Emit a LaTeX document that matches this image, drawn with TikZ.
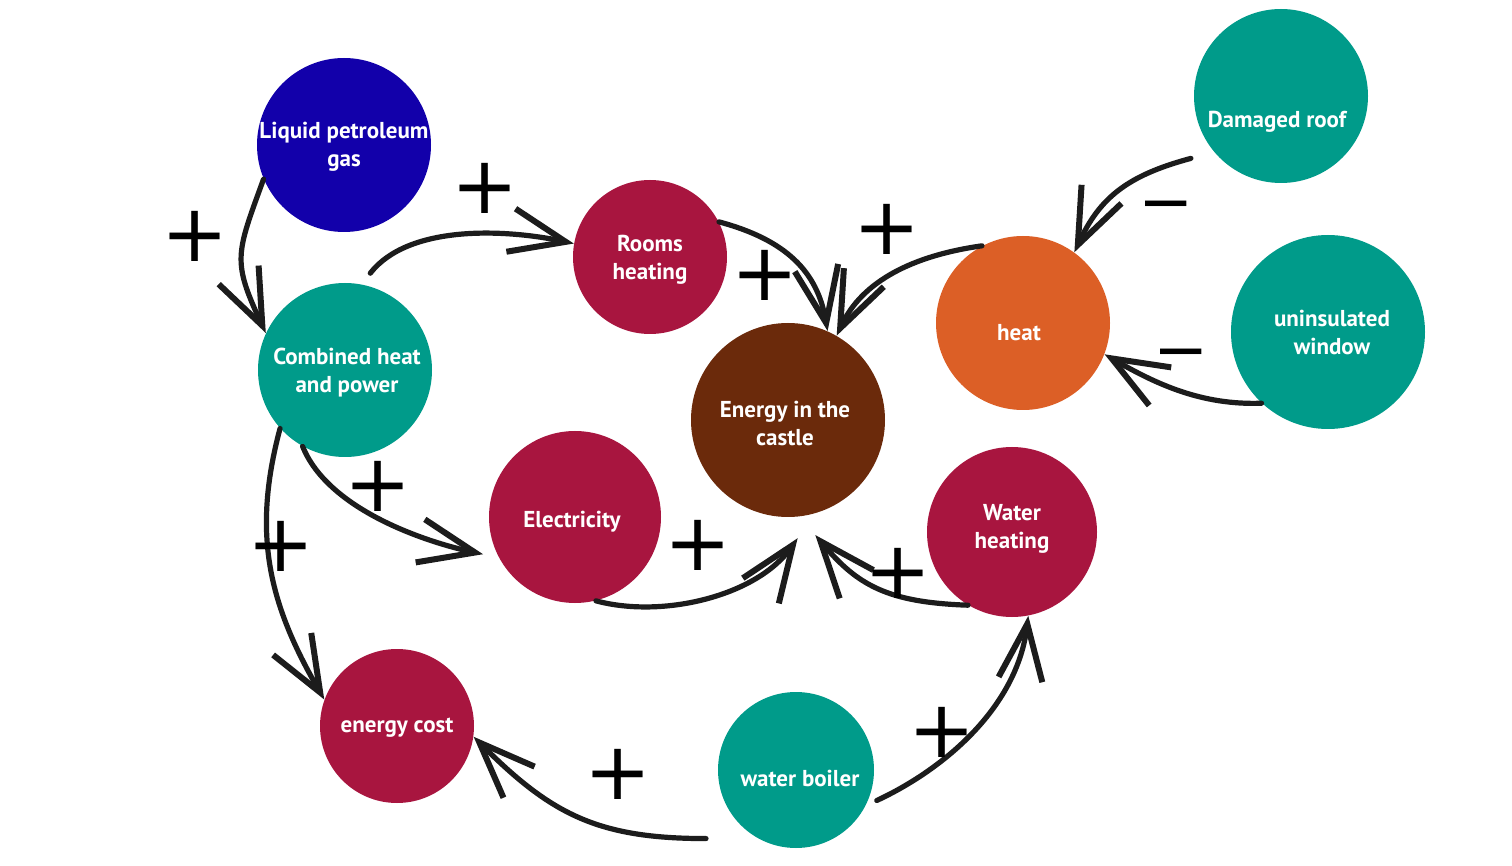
\documentclass[tikz,border=0pt]{standalone}
\usepackage{fontspec}
\setmainfont{PT Sans}
\newfontfamily\signfont{DejaVu Sans}
\usetikzlibrary{arrows.meta}
\definecolor{cblue}{RGB}{18,0,170}
\definecolor{cteal}{RGB}{0,155,138}
\definecolor{ccrim}{RGB}{168,21,63}
\definecolor{cbrown}{RGB}{107,42,11}
\definecolor{corange}{RGB}{220,95,38}
\definecolor{cink}{RGB}{28,28,28}
\begin{document}
\begin{tikzpicture}[x=0.5pt,y=-0.5pt,
  ball/.style={circle, inner sep=0pt, minimum size=#1pt},
  lbl/.style={text=white, font=\bfseries\fontsize{11.5}{14}\selectfont, align=center, inner sep=0pt},
  plus/.style={font=\signfont\fontsize{40}{40}\selectfont, inner sep=0pt, text=black},
  minus/.style={font=\signfont\fontsize{33}{33}\selectfont, inner sep=0pt, text=black},
  link/.style={draw=cink, line width=2.6pt, line cap=round, -{Straight Barb[length=28pt,width=22pt,line width=3pt]}}
]
\useasboundingbox (0,0) rectangle (1512,866);
\fill[white] (0,0) rectangle (1512,866);

% circles
\node[ball=87, fill=cblue]   (lpg)    at (344,145) {};
\node[ball=87, fill=cteal]   (chp)    at (345,370) {};
\node[ball=77, fill=ccrim]   (rooms)  at (650,257) {};
\node[ball=97, fill=cbrown]  (energy) at (788,420) {};
\node[ball=87, fill=corange] (heat)   at (1023,323) {};
\node[ball=87, fill=cteal]   (roof)   at (1281,96) {};
\node[ball=97, fill=cteal]   (window) at (1328,332) {};
\node[ball=86, fill=ccrim]   (elec)   at (575,517) {};
\node[ball=85, fill=ccrim]   (wh)     at (1012,532) {};
\node[ball=77, fill=ccrim]   (cost)   at (397,726) {};
\node[ball=78, fill=cteal]   (boiler) at (796,770) {};

% labels
\node[lbl] (lpgT)    at (344,147)  {Liquid petroleum\\gas};
\node[lbl] (chpT)    at (347,373)  {Combined heat\\and power};
\node[lbl] (roomsT)  at (650,260)  {Rooms\\heating};
\node[lbl] (energyT) at (785,423)  {Energy in the\\castle};
\node[lbl] (heatT)   at (1019,333) {heat};
\node[lbl] (roofT)   at (1277,122) {Damaged roof};
\node[lbl] (windowT) at (1332,332) {uninsulated\\window};
\node[lbl] (elecT)   at (572,522)  {Electricity};
\node[lbl] (whT)     at (1012,529) {Water\\heating};
\node[lbl] (costT)   at (397,728)  {energy cost};
\node[lbl] (boilerT) at (800,778)  {water boiler};

% connectors
\draw[link] (lpg.203) .. controls +(250:40pt) and +(115:40pt) .. (chp.155);
\draw[link, shorten <=7pt] (chp.79) .. controls +(52:38pt) and +(168:35pt) .. (rooms.170);
\draw[link] (rooms.27) .. controls +(-15:35pt) and +(100:30pt) .. (energy.66);
\draw[link] (heat.118) .. controls +(188:35pt) and +(65:30pt) .. (energy.60);
\draw[link, shorten <=12pt] (roof.220) .. controls +(195:45pt) and +(65:30pt) .. (heat.54);
\draw[link] (window.227) .. controls +(182:30pt) and +(-30:30pt) .. (heat.-21);
\draw[link, shorten >=8pt] (chp.241) .. controls +(-68:35pt) and +(168:35pt) .. (elec.208);
\draw[link] (chp.222) .. controls +(-105:55pt) and +(120:55pt) .. (cost.160);
\draw[link, shorten >=15pt] (elec.-76) .. controls +(-15:35pt) and +(235:50pt) .. (energy.-74);
\draw[link, shorten >=12pt] (wh.239) .. controls +(178:40pt) and +(-50:45pt) .. (energy.-83);
\draw[link, shorten <=6pt] (boiler.-27) .. controls +(25:45pt) and +(-97:45pt) .. (wh.-79);
\draw[link, shorten <=26pt] (boiler.241) .. controls +(180:80pt) and +(-45:55pt) .. (cost.-8);

% polarity signs
\node[plus]  (s1)  at (195,236) {+};
\node[plus]  (s2)  at (485,188) {+};
\node[plus]  (s3)  at (765,275) {+};
\node[plus]  (s4)  at (887,229) {+};
\node[minus] (s5)  at (1166,213) {−};
\node[minus] (s6)  at (1181,361) {−};
\node[plus]  (s7)  at (378,486) {+};
\node[plus]  (s8)  at (281,546) {+};
\node[plus]  (s9)  at (698,545) {+};
\node[plus]  (s10) at (898,573) {+};
\node[plus]  (s11) at (942,732) {+};
\node[plus]  (s12) at (618,774) {+};
\end{tikzpicture}
\end{document}
